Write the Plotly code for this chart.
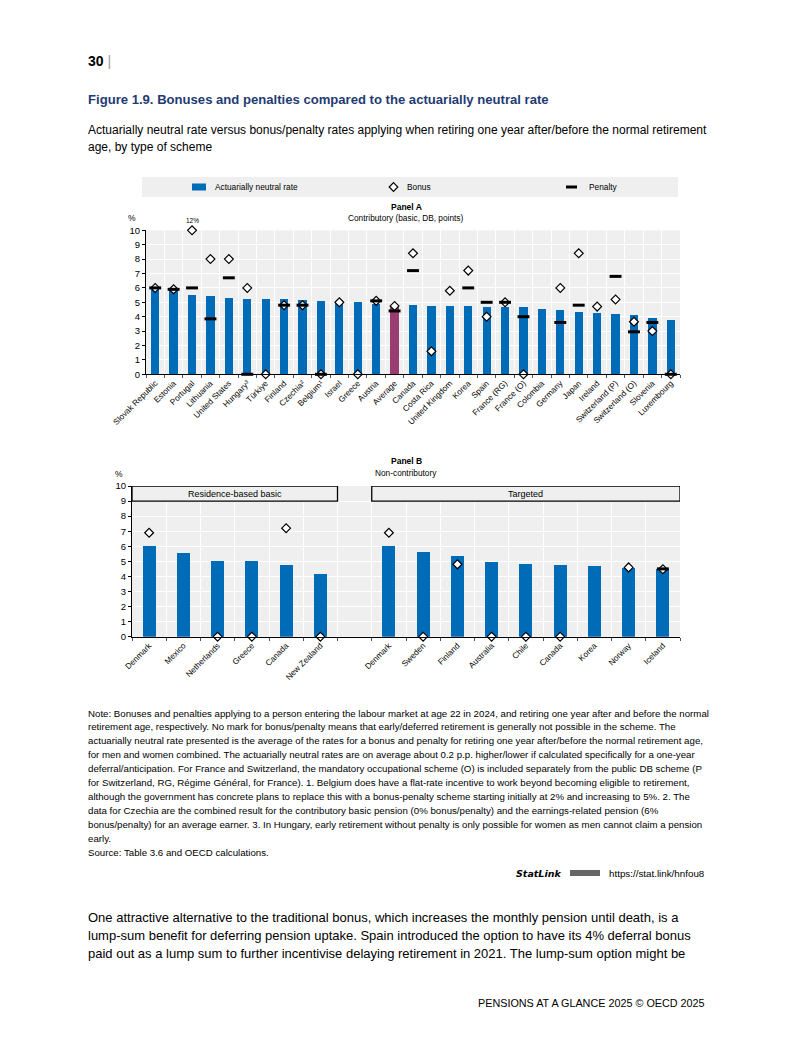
import plotly.graph_objects as go

# page is rendered with an 8px body margin, so the figure is sized to fit the window exactly
OFF = 8
W, H = 793 - 2 * OFF, 1057 - 2 * OFF
def px(x): return (x - OFF) / W
def py(y): return 1 - (y - OFF) / H

# ---------------- data ----------------
cats_a = ["Slovak Republic", "Estonia", "Portugal", "Lithuania", "United States", "Hungary³",
          "Türkiye", "Finland", "Czechia²", "Belgium¹", "Israel", "Greece", "Austria", "Average",
          "Canada", "Costa Rica", "United Kingdom", "Korea", "Spain", "France (RG)", "France (O)",
          "Colombia", "Germany", "Japan", "Ireland", "Switzerland (P)", "Switzerland (O)",
          "Slovenia", "Luxembourg"]
neutral_a = [6.0, 5.95, 5.5, 5.42, 5.3, 5.2, 5.2, 5.18, 5.15, 5.1, 5.03, 5.0, 4.85, 4.78,
             4.77, 4.72, 4.7, 4.7, 4.65, 4.63, 4.62, 4.5, 4.47, 4.33, 4.24, 4.14, 4.13, 3.87, 3.75]
bonus_a = [6.0, 5.9, 12.0, 8.0, 8.0, 6.0, 0.0, 4.8, 4.8, 0.0, 5.0, 0.0, 5.1, 4.75,
           8.4, 1.6, 5.8, 7.2, 4.0, 5.0, 0.0, None, 6.0, 8.4, 4.7, 5.2, 3.65, 3.0, 0.0]
penalty_a = [6.0, 5.9, 6.0, 3.85, 6.7, 0.0, None, 4.8, 4.8, 0.0, None, None, 5.1, 4.4,
             7.2, None, None, 6.0, 5.0, 5.0, 4.0, None, 3.6, 4.8, None, 6.8, 2.95, 3.6, 0.0]

cats_b = ["Denmark", "Mexico", "Netherlands", "Greece", "Canada", "New Zealand",
          "Denmark", "Sweden", "Finland", "Australia", "Chile", "Canada", "Korea", "Norway", "Iceland"]
pos_b = [0, 1, 2, 3, 4, 5, 7, 8, 9, 10, 11, 12, 13, 14, 15]
neutral_b = [6.05, 5.53, 5.04, 5.0, 4.78, 4.18, 6.05, 5.62, 5.35, 4.98, 4.85, 4.78, 4.69, 4.58, 4.49]
bonus_b = [6.9, None, 0.0, 0.0, 7.2, 0.0, 6.9, 0.0, 4.8, 0.0, 0.0, 0.0, None, 4.6, 4.47]
penalty_b = [None, None, None, None, None, None, None, None, None, None, None, None, None, None, 4.5]

groups_b = ["Residence-based basic", "Targeted"]
group_span_b = [(-0.5, 5.5), (6.5, 15.5)]

y_ticks = list(range(0, 11))
Y_CAP = 10

BLUE = "#006BB6"
PURPLE = "#993D71"
BG = "#EFEFEF"
NARROW = "Liberation Sans Narrow, Arial Narrow, Liberation Sans, Arial, sans-serif"
REG = "Liberation Sans, Arial, sans-serif"

fig = go.Figure()

# ---------------- Panel A ----------------
xa = list(range(len(cats_a)))
fig.add_trace(go.Bar(x=xa, y=neutral_a, width=0.45,
                     marker=dict(color=[PURPLE if c == "Average" else BLUE for c in cats_a], line=dict(width=0)),
                     xaxis="x", yaxis="y", showlegend=False))
fig.add_trace(go.Scatter(x=xa, y=[None if v is None else min(v, Y_CAP) for v in bonus_a], mode="markers",
                         marker=dict(symbol="diamond", size=6.8, color="white", line=dict(color="black", width=1.2)),
                         cliponaxis=False, xaxis="x", yaxis="y", showlegend=False))
fig.add_trace(go.Scatter(x=xa, y=penalty_a, mode="markers",
                         marker=dict(symbol="line-ew", size=8.5, line=dict(color="black", width=3)),
                         cliponaxis=False, xaxis="x", yaxis="y", showlegend=False))

# ---------------- Panel B ----------------
fig.add_trace(go.Bar(x=pos_b, y=neutral_b, width=0.38, marker=dict(color=BLUE, line=dict(width=0)),
                     xaxis="x2", yaxis="y2", showlegend=False))
fig.add_trace(go.Scatter(x=pos_b, y=bonus_b, mode="markers",
                         marker=dict(symbol="diamond", size=6.8, color="white", line=dict(color="black", width=1.2)),
                         cliponaxis=False, xaxis="x2", yaxis="y2", showlegend=False))
fig.add_trace(go.Scatter(x=pos_b, y=penalty_b, mode="markers",
                         marker=dict(symbol="line-ew", size=8.5, line=dict(color="black", width=3)),
                         cliponaxis=False, xaxis="x2", yaxis="y2", showlegend=False))

def xaxis_cfg(domain, n, tickvals, ticktext):
    return dict(domain=domain, range=[-0.5, n - 0.5], tickmode="array", tickvals=tickvals, ticktext=ticktext,
                tickangle=-45, ticks="", showgrid=False, zeroline=False, showline=True, linecolor="black",
                linewidth=1, automargin=False, tickfont=dict(family=NARROW, size=8.2, color="black"),
                minor=dict(tickmode="array", tickvals=[i - 0.5 for i in range(n + 1)], showgrid=True,
                           gridcolor="white", gridwidth=1, ticks="outside", ticklen=3, tickcolor="#555"))

def yaxis_cfg(domain, anchor):
    return dict(domain=domain, anchor=anchor, range=[0, 10], tickmode="array", tickvals=y_ticks,
                ticks="outside", ticklen=3, tickcolor="black", showline=True, linecolor="black", linewidth=1,
                showgrid=True, gridcolor="white", gridwidth=1, zeroline=False, automargin=False,
                tickfont=dict(family=NARROW, size=9.5, color="black"))

fig.update_layout(
    width=W, height=H, margin=dict(l=0, r=0, t=0, b=0, pad=0, autoexpand=False),
    paper_bgcolor="white", plot_bgcolor=BG, bargap=0, showlegend=False,
    xaxis=dict(anchor="y", **xaxis_cfg([px(146), px(680)], len(cats_a), xa, cats_a)),
    yaxis=yaxis_cfg([py(374.3), py(230.3)], "x"),
    xaxis2=dict(anchor="y2", **xaxis_cfg([px(132), px(680)], 16, pos_b, cats_b)),
    yaxis2=yaxis_cfg([py(636.7), py(486)], "x2"),
)

shapes = []
ann = []

# group boxes in panel B
for g, (x0, x1) in zip(groups_b, group_span_b):
    shapes.append(dict(type="rect", xref="x2", yref="y2", x0=x0, x1=x1, y0=9, y1=10,
                       fillcolor=BG, line=dict(color="black", width=1.3)))
    ann.append(dict(xref="x2", yref="y2", x=(x0 + x1) / 2, y=9.5, text=g, showarrow=False,
                    font=dict(family=NARROW, size=9, color="black")))

# legend band
shapes.append(dict(type="rect", xref="paper", yref="paper", x0=px(142), x1=px(678), y0=py(197), y1=py(177),
                   fillcolor=BG, line=dict(width=0), layer="below"))
shapes.append(dict(type="rect", xref="paper", yref="paper", x0=px(192), x1=px(206), y0=py(190.5), y1=py(183.5),
                   fillcolor=BLUE, line=dict(width=0)))
cx, cy, r = 393.5, 187, 4.3
shapes.append(dict(type="path", xref="paper", yref="paper",
                   path=f"M {px(cx)},{py(cy-r)} L {px(cx+r)},{py(cy)} L {px(cx)},{py(cy+r)} L {px(cx-r)},{py(cy)} Z",
                   fillcolor="white", line=dict(color="black", width=1.2)))
shapes.append(dict(type="line", xref="paper", yref="paper", x0=px(566), x1=px(577), y0=py(187), y1=py(187),
                   line=dict(color="black", width=3)))

def text(x, y, s, size, family=NARROW, color="black", xanchor="left", bold=False):
    if bold:
        s = f"<b>{s}</b>"
    ann.append(dict(xref="paper", yref="paper", x=px(x), y=py(y), text=s, showarrow=False,
                    xanchor=xanchor, yanchor="middle", font=dict(family=family, size=size, color=color)))

text(213, 187, "Actuarially neutral rate", 8.3)
text(404.5, 187, "Bonus", 8.3)
text(587, 187, "Penalty", 8.3)

# panel titles
text(406, 207, "Panel A", 8.5, xanchor="center", bold=True)
text(406, 218, "Contributory (basic, DB, points)", 8.3, xanchor="center")
text(132, 218, "%", 8.5, xanchor="center")
ann.append(dict(xref="x", yref="paper", x=2, y=py(220.5), text="12%", showarrow=False,
                font=dict(family=NARROW, size=6.5, color="black"), yanchor="middle"))
text(406, 461, "Panel B", 8.5, xanchor="center", bold=True)
text(406, 473, "Non-contributory", 8.3, xanchor="center")
text(119, 474, "%", 8.5, xanchor="center")

# page text
ann.append(dict(xref="paper", yref="paper", x=px(86), y=py(61), xanchor="left", yanchor="middle", showarrow=False,
                text="<b>30</b> <span style='color:#999'>|</span>", font=dict(family=NARROW, size=14, color="black")))
text(86, 100, "Figure 1.9. Bonuses and penalties compared to the actuarially neutral rate", 13.1,
     color="#1F3B73", bold=True)
text(86, 130, "Actuarially neutral rate versus bonus/penalty rates applying when retiring one year after/before the normal retirement", 12)
text(86, 147, "age, by type of scheme", 12)

note_lines = [
    "Note: Bonuses and penalties applying to a person entering the labour market at age 22 in 2024, and retiring one year after and before the normal",
    "retirement age, respectively. No mark for bonus/penalty means that early/deferred retirement is generally not possible in the scheme. The",
    "actuarially neutral rate presented is the average of the rates for a bonus and penalty for retiring one year after/before the normal retirement age,",
    "for men and women combined. The actuarially neutral rates are on average about 0.2 p.p. higher/lower if calculated specifically for a one-year",
    "deferral/anticipation. For France and Switzerland, the mandatory occupational scheme (O) is included separately from the public DB scheme (P",
    "for Switzerland, RG, Régime Général, for France). 1. Belgium does have a flat-rate incentive to work beyond becoming eligible to retirement,",
    "although the government has concrete plans to replace this with a bonus-penalty scheme starting initially at 2% and increasing to 5%. 2. The",
    "data for Czechia are the combined result for the contributory basic pension (0% bonus/penalty) and the earnings-related pension (6%",
    "bonus/penalty) for an average earner. 3. In Hungary, early retirement without penalty is only possible for women as men cannot claim a pension",
    "early.",
    "Source: Table 3.6 and OECD calculations.",
]
for i, line in enumerate(note_lines):
    text(86, 713 + i * 13.9, line, 9.7)

# StatLink
ann.append(dict(xref="paper", yref="paper", x=px(563), y=py(873), xanchor="right", yanchor="middle", showarrow=False,
                text="<b><i>StatLink</i></b>", font=dict(family="DejaVu Sans, sans-serif", size=9.5, color="black")))
shapes.append(dict(type="rect", xref="paper", yref="paper", x0=px(570), x1=px(600), y0=py(876), y1=py(870),
                   fillcolor="#666", line=dict(width=0)))
text(707, 873, "https://stat.link/hnfou8", 9.8, xanchor="right")

body = [
    "One attractive alternative to the traditional bonus, which increases the monthly pension until death, is a",
    "lump-sum benefit for deferring pension uptake. Spain introduced the option to have its 4% deferral bonus",
    "paid out as a lump sum to further incentivise delaying retirement in 2021. The lump-sum option might be",
]
for i, line in enumerate(body):
    text(86, 917 + i * 18, line, 13, family=REG)

text(707, 1003, "PENSIONS AT A GLANCE 2025 © OECD 2025", 10.8, xanchor="right")

fig.update_layout(shapes=shapes, annotations=ann)
fig.write_html("out.html")
